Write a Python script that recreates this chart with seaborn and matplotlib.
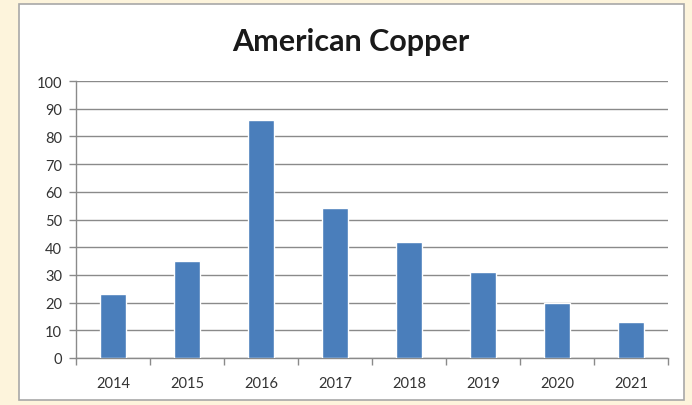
import matplotlib
matplotlib.use("Agg")
import matplotlib.pyplot as plt
from matplotlib.patches import Rectangle
import seaborn as sns
import pandas as pd

years = ["2014", "2015", "2016", "2017", "2018", "2019", "2020", "2021"]
values = [23, 35, 86, 54, 42, 31, 20, 13]
y_ticks = list(range(0, 101, 10))

sns.set_theme(style="white")
plt.rcParams["font.family"] = ["Lato", "DejaVu Sans"]

df = pd.DataFrame({"year": years, "value": values})

fig = plt.figure(figsize=(6.92, 4.06), dpi=100)
fig.patch.set_facecolor("#fdf4dc")

# white chart frame with a grey border
frame = Rectangle((19 / 692, 5 / 406), (684 - 19) / 692, (401 - 5) / 406,
                  transform=fig.transFigure, facecolor="white",
                  edgecolor="#a8a8a8", linewidth=1.2, zorder=-5)
fig.patches.append(frame)

ax = fig.add_axes([76 / 692, 47 / 406, (668 - 76) / 692, (359 - 82) / 406])
ax.set_zorder(2)
ax.set_facecolor("none")

sns.barplot(data=df, x="year", y="value", color="#4a7ebb", width=0.34,
            saturation=1, ax=ax, zorder=3)

ax.set_ylim(0, 100)
ax.set_xlim(-0.5, len(years) - 0.5)
ax.set_yticks(y_ticks)
ax.yaxis.grid(True, color="#8a8a8a", linewidth=1.0, zorder=0)
ax.set_axisbelow(True)
ax.set_xlabel("")
ax.set_ylabel("")

for side in ["top", "right"]:
    ax.spines[side].set_visible(False)
for side in ["left", "bottom"]:
    ax.spines[side].set_color("#8a8a8a")
    ax.spines[side].set_linewidth(1.0)

ax.tick_params(axis="y", which="major", direction="out", length=5,
               color="#8a8a8a", width=1, labelsize=10.5, labelcolor="#333333",
               pad=5, left=True)
# x tick marks sit on the category boundaries, labels at the centres
ax.set_xticks([i - 0.5 for i in range(len(years) + 1)], minor=True)
ax.tick_params(axis="x", which="minor", direction="out", length=5,
               color="#8a8a8a", width=1, bottom=True)
ax.tick_params(axis="x", which="major", length=0, labelsize=10.5,
               labelcolor="#333333", pad=13)

fig.text(351 / 692, 1 - 42 / 406, "American Copper", ha="center", va="center",
         fontsize=22, fontweight="bold", color="#1a1a1a")

fig.savefig("out.png", dpi=100, facecolor=fig.get_facecolor())
